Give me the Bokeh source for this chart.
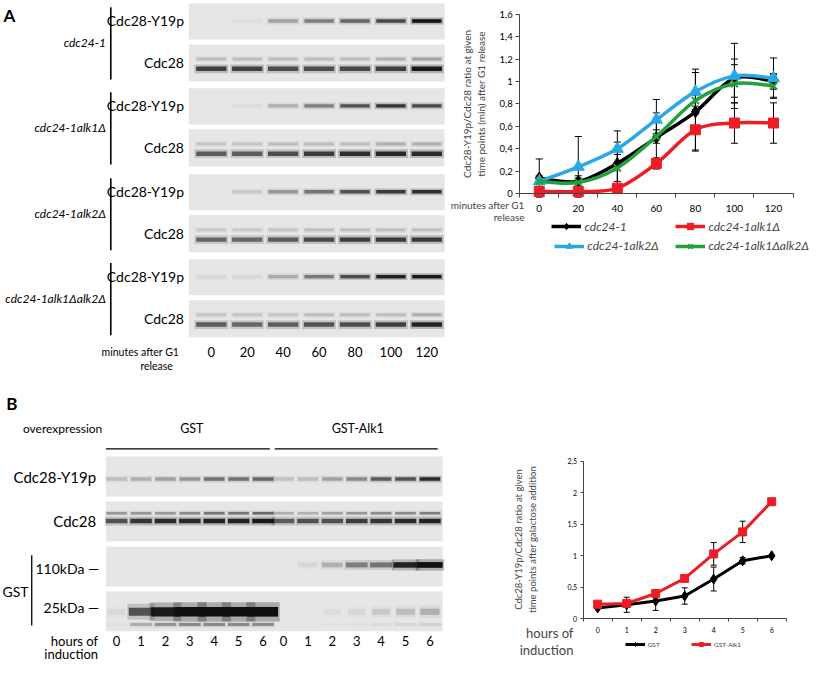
import numpy as np
from bokeh.plotting import figure
from bokeh.layouts import column, row
from bokeh.models import (Range1d, FixedTicker, Whisker, TeeHead, ColumnDataSource,
                          Legend, LegendItem, Label)
from bokeh.core.properties import value
from bokeh.embed import file_html
from bokeh.resources import INLINE

FONT = "Lato"

# ------------------------------------------------------------------ data
minutes = [0, 20, 40, 60, 80, 100, 120]
strains_A = ["cdc24-1", "cdc24-1alk1Δ", "cdc24-1alk2Δ", "cdc24-1alk1Δalk2Δ"]

# western blot band intensities (0..1), one value per lane
y19p_A = [
    [0.00, 0.03, 0.25, 0.40, 0.50, 0.65, 0.95],
    [0.00, 0.03, 0.20, 0.40, 0.60, 0.75, 0.65],
    [0.00, 0.10, 0.30, 0.45, 0.60, 0.72, 0.78],
    [0.05, 0.05, 0.22, 0.42, 0.62, 0.85, 0.90],
]
cdc28_A = [
    [0.70, 0.68, 0.62, 0.62, 0.65, 0.70, 0.90],
    [0.55, 0.55, 0.62, 0.72, 0.78, 0.82, 0.80],
    [0.50, 0.50, 0.55, 0.65, 0.70, 0.72, 0.72],
    [0.55, 0.50, 0.55, 0.60, 0.62, 0.70, 0.85],
]
cdc28_upper_A = [
    [0.15, 0.15, 0.15, 0.15, 0.15, 0.20, 0.25],
    [0.12, 0.12, 0.15, 0.15, 0.15, 0.20, 0.20],
    [0.10, 0.10, 0.12, 0.15, 0.15, 0.15, 0.15],
    [0.12, 0.12, 0.12, 0.15, 0.15, 0.15, 0.20],
]

# ratio Cdc28-Y19p/Cdc28 (panel A chart)
ratio_cdc24 = [0.14, 0.11, 0.27, 0.50, 0.73, 1.03, 1.00]
err_cdc24 = [0.17, 0.05, 0.19, 0.22, 0.35, 0.17, 0.07]
ratio_alk1 = [0.02, 0.02, 0.05, 0.27, 0.57, 0.63, 0.63]
err_alk1 = [0.00, 0.00, 0.02, 0.05, 0.18, 0.18, 0.18]
ratio_alk2 = [0.11, 0.24, 0.40, 0.66, 0.91, 1.05, 1.03]
err_alk2 = [0.00, 0.27, 0.16, 0.18, 0.20, 0.29, 0.18]
ratio_alk12 = [0.11, 0.10, 0.23, 0.51, 0.83, 0.98, 0.96]
err_alk12 = [0.05, 0.04, 0.12, 0.06, 0.05, 0.17, 0.10]
y_ticks_A = [0, 0.2, 0.4, 0.6, 0.8, 1.0, 1.2, 1.4, 1.6]
y_tick_labels_A = ["0", "0,2", "0,4", "0,6", "0,8", "1", "1,2", "1,4", "1,6"]

# panel B
hours = [0, 1, 2, 3, 4, 5, 6]
overexpression = ["GST", "GST-Alk1"]
y19p_B = [[0.15, 0.20, 0.25, 0.30, 0.45, 0.45, 0.50],
          [0.12, 0.15, 0.25, 0.35, 0.55, 0.60, 0.80]]
cdc28_B = [[0.60, 0.75, 0.80, 0.80, 0.85, 0.85, 0.90],
           [0.55, 0.60, 0.60, 0.70, 0.75, 0.80, 0.85]]
cdc28_upper_B = [[0.30, 0.30, 0.30, 0.35, 0.45, 0.45, 0.50],
                 [0.20, 0.20, 0.25, 0.30, 0.35, 0.35, 0.40]]
gst110_B = [[0, 0, 0, 0, 0, 0, 0],
            [0.00, 0.05, 0.20, 0.40, 0.45, 0.85, 1.00]]
gst25_B = [[0.05, 0.60, 0.90, 1.00, 1.00, 1.00, 1.00],
           [0.00, 0.00, 0.03, 0.05, 0.10, 0.15, 0.20]]

ratio_gst = [0.17, 0.22, 0.28, 0.36, 0.63, 0.92, 1.00]
err_gst = [0.00, 0.12, 0.15, 0.13, 0.19, 0.05, 0.00]
ratio_gstalk1 = [0.23, 0.24, 0.40, 0.64, 1.03, 1.38, 1.86]
err_gstalk1 = [0.00, 0.00, 0.00, 0.00, 0.18, 0.17, 0.00]
y_ticks_B = [0, 0.5, 1.0, 1.5, 2.0, 2.5]
y_tick_labels_B = ["0", "0,5", "1", "1,5", "2", "2,5"]

# ------------------------------------------------------------------ helpers
S = 0.976          # page pixels per reference pixel
BAND = "#101010"
STRIP = "#e6e6e6"
AXIS = "#444444"
W_BLOT_A = 448
W_BLOT_B = 508


def blot_fig(width, height, xr, yr):
    p = figure(width=width, height=height, x_range=Range1d(*xr), y_range=Range1d(*yr),
               output_backend="svg", toolbar_location=None,
               x_axis_location=None, y_axis_location=None, min_border=0)
    p.grid.visible = False
    p.outline_line_color = None
    return p


class Chart:
    """Figure whose frame is the whole canvas; axes drawn at fixed locations."""

    def __init__(self, w_px, h_px, ref_x0, ref_y0, fx0, fx1, fy_top, fy_bot, xr, yr):
        self.w, self.h, self.rx0, self.ry0 = w_px, h_px, ref_x0, ref_y0
        self.kx = (xr[1] - xr[0]) / (fx1 - fx0)
        self.ky = (yr[1] - yr[0]) / (fy_bot - fy_top)
        self.x_lo = xr[0] - (fx0 - ref_x0) * self.kx
        self.y_hi = yr[1] + (fy_top - ref_y0) * self.ky
        x_hi = self.x_lo + (w_px / S) * self.kx
        y_lo = self.y_hi - (h_px / S) * self.ky
        p = figure(width=w_px, height=h_px, x_range=Range1d(self.x_lo, x_hi),
                   y_range=Range1d(y_lo, self.y_hi), output_backend="svg",
                   toolbar_location=None, min_border=0)
        p.grid.visible = False
        p.outline_line_color = None
        for ax in p.axis:
            ax.axis_line_color = AXIS
            ax.major_tick_line_color = AXIS
            ax.minor_tick_line_color = AXIS
            ax.major_label_text_font = FONT
            ax.major_label_text_color = "black"
        p.xaxis.fixed_location = yr[0]
        p.xaxis.bounds = xr
        p.yaxis.fixed_location = xr[0]
        p.yaxis.bounds = yr
        self.p = p

    def dx(self, rx):
        return self.x_lo + (rx - self.rx0) * self.kx

    def dy(self, ry):
        return self.y_hi - (ry - self.ry0) * self.ky

    def legend(self, item, rx, ry_center, size, glyph_w, glyph_h, style="normal"):
        vx = (rx - self.rx0) * S
        vy = self.h - (ry_center - self.ry0) * S - glyph_h / 2
        leg = Legend(items=[item], location=(vx, vy), orientation="horizontal",
                     label_text_font=FONT, label_text_font_size=size,
                     label_text_font_style=style, glyph_width=glyph_w,
                     glyph_height=glyph_h, label_height=glyph_h, padding=0, margin=0,
                     spacing=0, border_line_color=None, background_fill_alpha=0,
                     label_standoff=3)
        self.p.add_layout(leg)

    def label(self, rx, ry, text, size, align="left", angle=0.0):
        self.p.add_layout(Label(x=self.dx(rx), y=self.dy(ry), text=text,
                                text_font=FONT, text_font_size=size, text_align=align,
                                text_baseline="middle", angle=angle))


def add_bands(p, xs, y, intens, w, h, grow=0.0):
    a = np.clip(np.asarray(intens, float), 0, 1)
    ws = w + grow * w * a
    hs = h + grow * h * a
    src = ColumnDataSource(dict(x=list(xs), y=[y] * len(xs),
                                a=list(np.clip(a * 1.05, 0, 1)),
                                ah=list(a * 0.28), w=list(ws), h=list(hs),
                                w2=list(ws * 1.12), h2=list(hs * 2.0)))
    p.rect(x="x", y="y", width="w2", height="h2", fill_color=BAND, fill_alpha="ah",
           line_color=None, source=src)
    p.rect(x="x", y="y", width="w", height="h", fill_color=BAND, fill_alpha="a",
           line_color=None, source=src)


def txt(p, x, y, s, size, align="left", style="normal"):
    p.text(x=[x], y=[y], text=[s], text_font=value(FONT), text_font_size=size,
           text_align=align, text_baseline="middle", text_font_style=style,
           text_color="black")


def smooth(p, xs, ys, color, width):
    x = np.asarray(xs, float)
    y = np.asarray(ys, float)
    xp = np.concatenate([[x[0]], x, [x[-1]]])
    yp = np.concatenate([[y[0]], y, [y[-1]]])
    i = np.arange(len(x) - 1)
    cx0 = x[:-1] + (xp[i + 2] - xp[i]) / 6
    cy0 = y[:-1] + (yp[i + 2] - yp[i]) / 6
    cx1 = x[1:] - (xp[i + 3] - xp[i + 1]) / 6
    cy1 = y[1:] - (yp[i + 3] - yp[i + 1]) / 6
    return p.bezier(x0=x[:-1], y0=y[:-1], x1=x[1:], y1=y[1:], cx0=cx0, cy0=cy0,
                    cx1=cx1, cy1=cy1, line_color=color, line_width=width)


def whiskers(p, xs, ys, errs, head=7):
    xs2 = [x for x, e in zip(xs, errs) if e > 0]
    up = [y + e for y, e in zip(ys, errs) if e > 0]
    lo = [y - e for y, e in zip(ys, errs) if e > 0]
    src = ColumnDataSource(dict(x=xs2, up=up, lo=lo))
    p.add_layout(Whisker(base="x", upper="up", lower="lo", source=src,
                         line_color="black", line_width=1,
                         upper_head=TeeHead(size=head, line_color="black", line_width=1),
                         lower_head=TeeHead(size=head, line_color="black", line_width=1)))


# ------------------------------------------------------------------ panel A blots
pA = blot_fig(W_BLOT_A, 379, (0, W_BLOT_A / S), (379 / S, 0))
txt(pA, 3, 15, "A", "17px", style="bold")
lane_x_A = [216 + 36.8 * i for i in range(len(minutes))]
group_top = [3, 90, 178, 265]
for g, name in enumerate(strains_A):
    t = group_top[g]
    pA.quad(left=[193], right=[455], top=[t], bottom=[t + 37], fill_color=STRIP,
            line_color=None)
    pA.quad(left=[193], right=[455], top=[t + 42], bottom=[t + 80], fill_color=STRIP,
            line_color=None)
    add_bands(pA, lane_x_A, t + 18, y19p_A[g], 30, 3.5)
    add_bands(pA, lane_x_A, t + 67, cdc28_A[g], 31, 4.5)
    add_bands(pA, lane_x_A, t + 57, cdc28_upper_A[g], 30, 3)
    txt(pA, 188, t + 18, "Cdc28-Y19p", "14px", align="right")
    txt(pA, 188, t + 61, "Cdc28", "14px", align="right")
    txt(pA, 108, t + 40, name, "12px", align="right", style="italic")
    pA.segment(x0=[113], x1=[113], y0=[t + 4], y1=[t + 78], line_color="black",
               line_width=1.6)
for x, m in zip(lane_x_A, minutes):
    txt(pA, x, 360, str(m), "13px", align="center")
txt(pA, 183, 360, "minutes after G1", "10.5px", align="right")
txt(pA, 160, 374, "release", "10.5px", align="center")

# ------------------------------------------------------------------ panel A chart
chA = Chart(813 - W_BLOT_A, 379, W_BLOT_A / S, 0, 532, 812, 14, 198, (-10, 130), (0, 1.6))
cA = chA.p
cA.xaxis.ticker = FixedTicker(ticks=minutes, minor_ticks=[m - 10 for m in minutes] + [130])
cA.xaxis.major_tick_out = 0
cA.xaxis.major_tick_in = 0
cA.xaxis.minor_tick_out = 4
cA.xaxis.minor_tick_in = 0
cA.xaxis.major_label_text_font_size = "10px"
cA.xaxis.major_label_standoff = 7
cA.yaxis.ticker = FixedTicker(ticks=y_ticks_A, minor_ticks=[])
cA.yaxis.major_label_overrides = dict(zip(y_ticks_A, y_tick_labels_A))
cA.yaxis.major_tick_out = 4
cA.yaxis.major_tick_in = 0
cA.yaxis.major_label_text_font_size = "9.5px"
cA.yaxis.major_label_standoff = 3

series_A = [
    ("cdc24-1", ratio_cdc24, err_cdc24, "black", "diamond", 12),
    ("cdc24-1alk1Δ", ratio_alk1, err_alk1, "#ee1c24", "square", 10),
    ("cdc24-1alk2Δ", ratio_alk2, err_alk2, "#2aa8e6", "triangle", 12),
    ("cdc24-1alk1Δalk2Δ", ratio_alk12, err_alk12, "#23a03c", "x", 10),
]
for _, ys, es, _, _, _ in series_A:
    whiskers(cA, minutes, ys, es)
legend_pos_A = [(565, 232), (692, 232), (568, 252), (692, 252)]
for (name, ys, es, col, mk, sz), (lx, ly) in zip(series_A, legend_pos_A):
    ln = smooth(cA, minutes, ys, col, 3.5)
    if mk == "x":
        sc = cA.scatter(minutes, ys, marker=mk, size=sz, line_color=col, line_width=2)
    else:
        sc = cA.scatter(minutes, ys, marker=mk, size=sz, fill_color=col, line_color=col)
    chA.legend(LegendItem(label=name, renderers=[ln, sc]), lx, ly, "12px", 30, 16,
               style="italic")
chA.label(537, 210, "minutes after G1", "10px", align="right")
chA.label(537, 222, "release", "10px", align="right")
chA.label(478, 106, "Cdc28-Y19p/Cdc28 ratio at given", "10px", align="center",
          angle=np.pi / 2)
chA.label(492, 106, "time points (min) after G1 release", "10px", align="center",
          angle=np.pi / 2)

# ------------------------------------------------------------------ panel B blots
pB = blot_fig(W_BLOT_B, 283, (0, W_BLOT_B / S), (388 + 283 / S, 388))
txt(pB, 6, 413, "B", "17px", style="bold")
txt(pB, 23, 438, "overexpression", "12px")
txt(pB, 196, 438, overexpression[0], "12.5px", align="center")
txt(pB, 366, 438, overexpression[1], "12.5px", align="center")
pB.segment(x0=[108, 281], x1=[276, 448], y0=[459, 459], y1=[459, 459],
           line_color="black", line_width=1.3)
strip_tops_B = [467, 513, 559, 605]
for t in strip_tops_B:
    pB.quad(left=[108], right=[453], top=[t], bottom=[t + 41], fill_color=STRIP,
            line_color=None)
lane_x_B = [[119 + 25 * i for i in range(len(hours))],
            [290 + 25 * i for i in range(len(hours))]]
for k in range(2):
    add_bands(pB, lane_x_B[k], 490, y19p_B[k], 21, 3.5)
    add_bands(pB, lane_x_B[k], 533, cdc28_B[k], 22, 4.5)
    add_bands(pB, lane_x_B[k], 525, cdc28_upper_B[k], 21, 2.5)
    add_bands(pB, lane_x_B[k], 578, gst110_B[k], 20, 4.5, grow=0.3)
    add_bands(pB, lane_x_B[k], 626, gst25_B[k], 17, 5.5, grow=0.8)
    add_bands(pB, lane_x_B[k], 639, [v * 0.35 for v in gst25_B[k]], 22, 3)
    for x, h in zip(lane_x_B[k], hours):
        txt(pB, x, 656, str(h), "13px", align="center")
txt(pB, 98, 488, "Cdc28-Y19p", "15px", align="right")
txt(pB, 98, 533, "Cdc28", "15px", align="right")
txt(pB, 101, 582, "110kDa —", "14px", align="right")
txt(pB, 101, 622, "25kDa —", "14px", align="right")
txt(pB, 2, 605, "GST", "14px")
pB.segment(x0=[32], x1=[32], y0=[568], y1=[640], line_color="black", line_width=1.3)
txt(pB, 100, 656, "hours of", "13px", align="right")
txt(pB, 100, 669, "induction", "13px", align="right")

# ------------------------------------------------------------------ panel B chart
chB = Chart(813 - W_BLOT_B, 283, W_BLOT_B / S, 388, 597, 805, 472, 633,
            (-0.5, 6.5), (0, 2.5))
cB = chB.p
cB.xaxis.ticker = FixedTicker(ticks=hours, minor_ticks=[h - 0.5 for h in hours] + [6.5])
cB.xaxis.major_tick_out = 0
cB.xaxis.major_tick_in = 0
cB.xaxis.minor_tick_out = 3
cB.xaxis.minor_tick_in = 0
cB.xaxis.major_label_text_font_size = "7px"
cB.xaxis.major_label_standoff = 5
cB.yaxis.ticker = FixedTicker(ticks=y_ticks_B, minor_ticks=[])
cB.yaxis.major_label_overrides = dict(zip(y_ticks_B, y_tick_labels_B))
cB.yaxis.major_tick_out = 3
cB.yaxis.major_tick_in = 0
cB.yaxis.major_label_text_font_size = "7px"
cB.yaxis.major_label_standoff = 3
whiskers(cB, hours, ratio_gst, err_gst, head=6)
whiskers(cB, hours, ratio_gstalk1, err_gstalk1, head=6)
l1 = cB.line(hours, ratio_gst, line_color="black", line_width=3)
s1 = cB.scatter(hours, ratio_gst, marker="diamond", size=10, color="black")
l2 = cB.line(hours, ratio_gstalk1, line_color="#ee1c24", line_width=3)
s2 = cB.scatter(hours, ratio_gstalk1, marker="square", size=8, color="#ee1c24")
chB.legend(LegendItem(label="GST", renderers=[l1, s1]), 640, 660, "6.5px", 20, 10)
chB.legend(LegendItem(label="GST-Alk1", renderers=[l2, s2]), 708, 660, "6.5px", 20, 10)
chB.label(587, 648, "hours of", "13px", align="right")
chB.label(587, 665, "induction", "13px", align="right")
chB.label(531, 552, "Cdc28-Y19p/Cdc28 ratio at given", "9.5px", align="center",
          angle=np.pi / 2)
chB.label(545, 552, "time points after galactose addition", "9.5px", align="center",
          angle=np.pi / 2)

layout = column(row(pA, cA), row(pB, cB), spacing=0)
open("out.html", "w").write(file_html(layout, INLINE))
